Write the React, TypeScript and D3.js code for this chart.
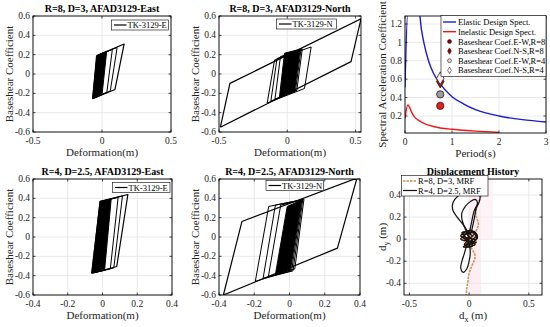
import React from "react";
import * as d3 from "d3";

type Pt = [number, number];

const FONT = "'Liberation Serif', 'Times New Roman', serif";

// ---- hysteresis loops, [deformation (m), baseshear coefficient] ----
// R=8, D=3, AFAD3129-East
const e8Outer: Pt[] = [[-0.068, -0.256], [-0.035, 0.19], [0.16, 0.31], [0.094, -0.16], [-0.068, -0.256]];
const e8Core: Pt[] = [[-0.068, -0.256], [-0.04, 0.19], [0.034, 0.235], [0.0, -0.215]];
const e8Loops: Pt[][] = [
  [[-0.055, -0.245], [-0.022, 0.2], [0.075, 0.255], [0.035, -0.19], [-0.055, -0.245]],
  [[-0.045, -0.24], [-0.012, 0.205], [0.11, 0.275], [0.06, -0.175], [-0.045, -0.24]],
];

// R=8, D=3, AFAD3129-North
const n8Outer: Pt[] = [[-0.49, -0.55], [-0.42, -0.097], [0.54, 0.57], [0.467, 0.128], [-0.49, -0.55]];
const n8Core: Pt[] = [[-0.057, -0.235], [-0.02, 0.215], [0.094, 0.256], [0.053, -0.18]];
const n8Loops: Pt[][] = [
  [[-0.147, -0.3], [-0.093, 0.145], [0.175, 0.28], [0.126, -0.15], [-0.147, -0.3]],
  [[-0.12, -0.28], [-0.075, 0.16], [0.11, 0.26], [0.07, -0.17], [-0.12, -0.28]],
  [[-0.09, -0.26], [-0.05, 0.18], [0.1, 0.25], [0.06, -0.175], [-0.09, -0.26]],
];

// R=4, D=2.5, AFAD3129-East
const e4Outer: Pt[] = [[-0.062, -0.375], [-0.014, 0.368], [0.146, 0.44], [0.082, -0.305], [-0.062, -0.375]];
const e4Core: Pt[] = [[-0.062, -0.375], [-0.014, 0.368], [0.05, 0.395], [0.012, -0.345]];
const e4Loops: Pt[][] = [
  [[-0.05, -0.37], [0.0, 0.37], [0.09, 0.41], [0.045, -0.33], [-0.05, -0.37]],
  [[-0.04, -0.365], [0.01, 0.375], [0.115, 0.425], [0.065, -0.32], [-0.04, -0.365]],
];

// R=4, D=2.5, AFAD3129-North
const n4Outer: Pt[] = [[-0.375, -0.6], [-0.27, 0.16], [0.383, 0.61], [0.272, -0.115], [-0.375, -0.6]];
const n4Core: Pt[] = [[-0.08, -0.39], [-0.013, 0.316], [0.067, 0.38], [0.006, -0.34]];
const n4Loops: Pt[][] = [
  [[-0.194, -0.46], [-0.118, 0.316], [0.082, 0.39], [0.03, -0.33], [-0.194, -0.46]],
  [[-0.15, -0.43], [-0.08, 0.33], [0.075, 0.385], [0.02, -0.35], [-0.15, -0.43]],
  [[-0.12, -0.41], [-0.05, 0.33], [0.07, 0.382], [0.012, -0.35], [-0.12, -0.41]],
];

// ---- design spectra, [period (s), Sa coefficient] ----
const elasticSpec: Pt[] = [
  [0, 0.51], [0.06, 1.33], [0.3, 1.33], [0.35, 1.14], [0.4, 1.0], [0.5, 0.8], [0.6, 0.67],
  [0.75, 0.55], [1, 0.41], [1.25, 0.33], [1.5, 0.27], [2, 0.2], [2.5, 0.16], [3, 0.135],
];
const inelasticSpec: Pt[] = [
  [0, 0.175], [0.06, 0.32], [0.15, 0.23], [0.2, 0.19], [0.3, 0.15], [0.4, 0.12], [0.5, 0.1],
  [0.75, 0.07], [1, 0.055], [1.25, 0.045], [1.5, 0.035], [2, 0.022],
];
const coefPeriod = 0.75;
const coefNames = ["Baseshear Coef.E-W,R=8", "Baseshear Coef.N-S,R=8", "Baseshear Coef.E-W,R=4", "Baseshear Coef.N-S,R=4"];
const coefValues = [0.31, 0.575, 0.435, 0.61];

// ---- displacement history, [dx (m), dy (m)] ----
const trajR8: Pt[] = [
  [-0.025, -0.52], [-0.02, -0.45], [-0.01, -0.38], [0.0, -0.31], [0.02, -0.25], [0.04, -0.2], [0.05, -0.15],
  [0.03, -0.1], [0.0, -0.06], [-0.04, -0.02], [0.02, 0.03], [0.06, -0.02], [0.05, 0.05], [0.07, 0.1],
  [0.078, 0.145], [0.06, 0.2], [0.055, 0.25], [0.065, 0.3], [0.085, 0.35], [0.107, 0.418], [0.125, 0.47],
  [0.14, 0.52], [0.16, 0.56],
];
const trajR4: Pt[] = [
  [0.0, 0.0], [-0.02, 0.06], [-0.05, 0.13], [-0.1, 0.2], [-0.135, 0.26], [-0.14, 0.31], [-0.12, 0.36],
  [-0.07, 0.41], [-0.01, 0.435], [0.05, 0.42], [0.09, 0.39], [0.085, 0.34], [0.06, 0.28], [0.045, 0.2],
  [0.03, 0.12], [0.01, 0.05], [-0.03, 0.1], [-0.06, 0.18], [-0.06, 0.24], [-0.03, 0.3], [0.01, 0.34],
  [0.05, 0.36], [0.07, 0.33], [0.04, 0.25], [0.02, 0.15], [0.0, 0.05], [-0.02, -0.05], [-0.04, -0.13],
  [-0.06, -0.2], [-0.07, -0.26], [-0.05, -0.3], [-0.02, -0.27], [0.0, -0.2], [0.01, -0.12], [0.0, -0.04],
];
const trajCluster: Pt[] = [
  [-0.06, 0.04], [0.05, 0.06], [-0.04, -0.05], [0.06, -0.03], [-0.07, 0.0], [0.04, 0.07], [0.07, 0.01],
  [-0.05, -0.07], [0.03, -0.06], [-0.06, 0.06], [0.065, 0.04], [-0.03, -0.06], [0.05, -0.05], [-0.07, 0.03],
  [0.02, 0.08], [0.06, 0.0], [-0.05, 0.02], [0.04, -0.04], [-0.02, 0.06], [0.03, 0.03],
];
const bandFull: Pt = [0, 0.1];
const bandUpper: Pt = [0.1, 0.2];

// ---- ticks ----
const coefTicks = [-0.6, -0.4, -0.2, 0, 0.2, 0.4, 0.6];
const def8Ticks = [-0.5, 0, 0.5];
const def4Ticks = [-0.4, -0.2, 0, 0.2, 0.4];
const periodTicks = [0, 1, 2, 3];
const saTicks = [0.2, 0.4, 0.6, 0.8, 1, 1.2];
const dxTicks = [-0.5, 0, 0.5];
const dyTicks = [-0.4, -0.2, 0, 0.2, 0.4];

type Box = { l: number; r: number; t: number; b: number };
type Sc = d3.ScaleLinear<number, number>;

const fmt = (v: number) => String(+v.toFixed(2));

function Panel(p: {
  id: string; box: Box; xd: number[]; yd: number[]; xt: number[]; yt: number[];
  title: string; xlabel: React.ReactNode; ylabel: React.ReactNode; ylx: number;
  draw: (x: Sc, y: Sc) => React.ReactNode; legend?: (x: Sc, y: Sc) => React.ReactNode;
}) {
  const { box } = p;
  const x = d3.scaleLinear().domain(p.xd).range([box.l, box.r]);
  const y = d3.scaleLinear().domain(p.yd).range([box.b, box.t]);
  const cx = (box.l + box.r) / 2;
  const cy = (box.t + box.b) / 2;
  const w = box.r - box.l, h = box.b - box.t;
  return (
    <g fontFamily={FONT}>
      <clipPath id={p.id}><rect x={box.l} y={box.t} width={w} height={h} /></clipPath>
      <rect x={box.l} y={box.t} width={w} height={h} fill="#fff" />
      <g stroke="#e3e3e3" strokeWidth={0.8}>
        {p.xt.map(t => <line key={"gx" + t} x1={x(t)} x2={x(t)} y1={box.t} y2={box.b} />)}
        {p.yt.map(t => <line key={"gy" + t} x1={box.l} x2={box.r} y1={y(t)} y2={y(t)} />)}
      </g>
      <g clipPath={`url(#${p.id})`}>{p.draw(x, y)}</g>
      <rect x={box.l} y={box.t} width={w} height={h} fill="none" stroke="#000" strokeWidth={0.9} />
      <g stroke="#000" strokeWidth={0.7}>
        {p.xt.map(t => <line key={"tx" + t} x1={x(t)} x2={x(t)} y1={box.b} y2={box.b - 2.5} />)}
        {p.xt.map(t => <line key={"tt" + t} x1={x(t)} x2={x(t)} y1={box.t} y2={box.t + 2.5} />)}
        {p.yt.map(t => <line key={"ty" + t} x1={box.l} x2={box.l + 2.5} y1={y(t)} y2={y(t)} />)}
        {p.yt.map(t => <line key={"tr" + t} x1={box.r} x2={box.r - 2.5} y1={y(t)} y2={y(t)} />)}
      </g>
      <g fontSize={9.5} fill="#222">
        {p.xt.map(t => <text key={"lx" + t} x={x(t)} y={box.b + 11.5} textAnchor="middle">{fmt(t)}</text>)}
        {p.yt.map(t => <text key={"ly" + t} x={box.l - 3} y={y(t)} dy="0.33em" textAnchor="end">{fmt(t)}</text>)}
      </g>
      <text x={cx} y={box.t - 4.5} textAnchor="middle" fontSize={10} fontWeight="bold">{p.title}</text>
      <text x={cx} y={box.b + 23.5} textAnchor="middle" fontSize={11} fill="#222">{p.xlabel}</text>
      <text transform={`translate(${p.ylx},${cy}) rotate(-90)`} dy="0.35em" textAnchor="middle" fontSize={11} fill="#222">{p.ylabel}</text>
      {p.legend && p.legend(x, y)}
    </g>
  );
}

function hyst(outer: Pt[], core: Pt[], loops: Pt[][]) {
  return (x: Sc, y: Sc) => {
    const line = d3.line<Pt>().x(d => x(d[0])).y(d => y(d[1]));
    return (
      <g>
        <path d={line(core)! + "Z"} fill="#000" stroke="#000" strokeWidth={1} />
        {loops.map((lp, i) => <path key={i} d={line(lp)!} fill="none" stroke="#000" strokeWidth={1} />)}
        <path d={line(outer)!} fill="none" stroke="#000" strokeWidth={1.2} strokeLinejoin="round" />
      </g>
    );
  };
}

function tkLegend(l: number, t: number, w: number, label: string) {
  return () => (
    <g fontFamily={FONT}>
      <rect x={l} y={t} width={w} height={10} fill="#fff" stroke="#000" strokeWidth={0.6} />
      <line x1={l + 2.5} x2={l + 15} y1={t + 5} y2={t + 5} stroke="#000" strokeWidth={1.2} />
      <text x={l + 16} y={t + 8} fontSize={8.5}>{label}</text>
    </g>
  );
}

const P1: Box = { l: 33, r: 171, t: 16, b: 132 };
const P2: Box = { l: 219, r: 361, t: 16, b: 132 };
const P3: Box = { l: 405, r: 546, t: 16, b: 133 };
const P4: Box = { l: 33, r: 172, t: 179, b: 295 };
const P5: Box = { l: 219, r: 360, t: 179, b: 295 };
const P6: Box = { l: 404, r: 542, t: 179, b: 295 };

const coefFill = ["#e81c1c", "#a01212", "#9c9c9c", "#f2f2f2"];
const coefLegFill = ["#8b0000", "#8b0000", "#dcdcdc", "#ffffff"];
const coefShape = [d3.symbolCircle, d3.symbolDiamond, d3.symbolCircle, d3.symbolDiamond];

export default function App() {
  return (
    <svg width={550} height={327} style={{ position: "absolute", left: 0, top: 0, background: "#fff" }}>
      <rect width={550} height={327} fill="#fff" />
      <Panel id="c1" box={P1} xd={[-0.5, 0.5]} yd={[-0.6, 0.6]} xt={def8Ticks} yt={coefTicks}
        title="R=8, D=3, AFAD3129-East" xlabel="Deformation(m)" ylabel="Baseshear Coefficient" ylx={9}
        draw={hyst(e8Outer, e8Core, e8Loops)} legend={tkLegend(111.5, 20, 57, "TK-3129-E")} />
      <Panel id="c2" box={P2} xd={[-0.5, 0.54]} yd={[-0.6, 0.6]} xt={def8Ticks} yt={coefTicks}
        title="R=8, D=3, AFAD3129-North" xlabel="Deformation(m)" ylabel="Baseshear Coefficient" ylx={195.5}
        draw={hyst(n8Outer, n8Core, n8Loops)} legend={tkLegend(276.5, 19, 60, "TK-3129-N")} />
      <Panel id="c4" box={P4} xd={[-0.4, 0.4]} yd={[-0.6, 0.6]} xt={def4Ticks} yt={coefTicks}
        title="R=4, D=2.5, AFAD3129-East" xlabel="Deformation(m)" ylabel="Baseshear Coefficient" ylx={9}
        draw={hyst(e4Outer, e4Core, e4Loops)} legend={tkLegend(112.5, 182.5, 57.5, "TK-3129-E")} />
      <Panel id="c5" box={P5} xd={[-0.4, 0.4]} yd={[-0.6, 0.6]} xt={def4Ticks} yt={coefTicks}
        title="R=4, D=2.5, AFAD3129-North" xlabel="Deformation(m)" ylabel="Baseshear Coefficient" ylx={195.5}
        draw={hyst(n4Outer, n4Core, n4Loops)} legend={tkLegend(266, 180.5, 57.5, "TK-3129-N")} />
      <Panel id="c3" box={P3} xd={[0, 3]} yd={[0.015, 1.287]} xt={periodTicks} yt={saTicks}
        title="" xlabel="Period(s)" ylabel="Spectral Acceleration Coefficient" ylx={382}
        draw={(x, y) => {
          const line = d3.line<Pt>().x(d => x(d[0])).y(d => y(d[1])).curve(d3.curveMonotoneX);
          return (
            <g>
              <path d={line(elasticSpec)!} fill="none" stroke="#1c1cc8" strokeWidth={1.4} />
              <path d={line(inelasticSpec)!} fill="none" stroke="#f01818" strokeWidth={1.4} />
              {coefValues.map((v, i) => (
                <path key={i} transform={`translate(${x(coefPeriod)},${y(v)})`}
                  d={d3.symbol().type(coefShape[i]).size(i % 2 ? 48 : 42)()!}
                  fill={coefFill[i]} stroke="#3a1010" strokeWidth={0.8} />
              ))}
            </g>
          );
        }}
        legend={() => (
          <g fontFamily={FONT} fontSize={8.5}>
            <rect x={441} y={15.5} width={105} height={61} fill="#fff" stroke="#000" strokeWidth={0.6} />
            <line x1={443} x2={456} y1={22} y2={22} stroke="#1c1cc8" strokeWidth={1.4} />
            <text x={458} y={25}>Elastic Design Spect.</text>
            <line x1={443} x2={456} y1={31.7} y2={31.7} stroke="#f01818" strokeWidth={1.4} />
            <text x={458} y={34.7}>Inelastic Design Spect.</text>
            {coefNames.map((n, i) => (
              <g key={n}>
                <path transform={`translate(449.5,${41.5 + i * 9.6})`}
                  d={d3.symbol().type(coefShape[i]).size(12)()!}
                  fill={coefLegFill[i]} stroke="#3a1010" strokeWidth={0.6} />
                <text x={458} y={44.5 + i * 9.6}>{n}</text>
              </g>
            ))}
          </g>
        )} />
      <Panel id="c6" box={P6} xd={[-0.545, 0.61]} yd={[-0.506, 0.545]} xt={dxTicks} yt={dyTicks}
        title="Displacement History"
        xlabel={<tspan>d<tspan fontSize={8} dy={3}>x</tspan><tspan dy={-3}> (m)</tspan></tspan>}
        ylabel={<tspan>d<tspan fontSize={8} dy={3}>y</tspan><tspan dy={-3}> (m)</tspan></tspan>}
        ylx={382}
        draw={(x, y) => {
          const line = d3.line<Pt>().x(d => x(d[0])).y(d => y(d[1])).curve(d3.curveCatmullRom);
          return (
            <g>
              <rect x={x(bandFull[0])} width={x(bandFull[1]) - x(bandFull[0])} y={P6.t} height={P6.b - P6.t}
                fill="#fbe2ed" opacity={0.6} />
              <rect x={x(bandUpper[0])} width={x(bandUpper[1]) - x(bandUpper[0])} y={P6.t} height={y(0) - P6.t}
                fill="#fdedf3" opacity={0.6} />
              <path d={line(trajR8)!} fill="none" stroke="#c8955a" strokeWidth={1.6} strokeDasharray="2.5,1" />
              <path d={line(trajR4)!} fill="none" stroke="#111" strokeWidth={1.2} />
              <path d={line(trajCluster)!} fill="none" stroke="#4a1c0c" strokeWidth={1.2} />
              <path d={line(trajCluster.slice().reverse())!} fill="none" stroke="#111" strokeWidth={1} />
            </g>
          );
        }}
        legend={() => (
          <g fontFamily={FONT} fontSize={8.5}>
            <rect x={401.5} y={175.5} width={86.5} height={20.5} fill="#fff" stroke="#000" strokeWidth={0.6} />
            <line x1={403} x2={417} y1={181} y2={181} stroke="#c8955a" strokeWidth={1.6} strokeDasharray="2.5,1" />
            <text x={418} y={184}>R=8, D=3, MRF</text>
            <line x1={403} x2={417} y1={190.5} y2={190.5} stroke="#111" strokeWidth={1.2} />
            <text x={418} y={193.5}>R=4, D=2.5, MRF</text>
          </g>
        )} />
    </svg>
  );
}
